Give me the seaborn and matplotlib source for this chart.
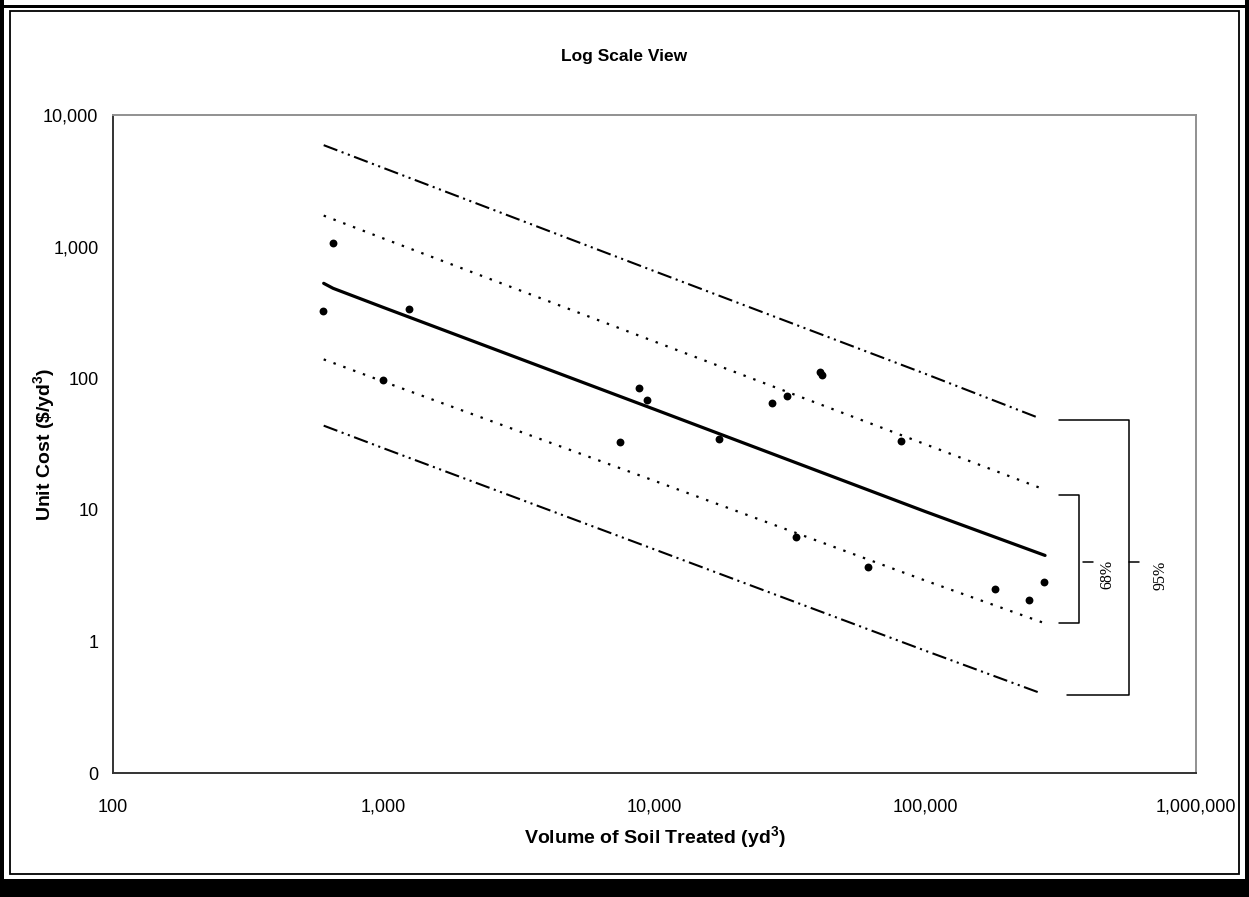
import matplotlib
matplotlib.use("Agg")
import matplotlib.pyplot as plt
import seaborn as sns
import pandas as pd
import numpy as np
from matplotlib.patches import Rectangle
from matplotlib.ticker import FixedLocator, NullLocator

# ---------------- data ----------------
volume = [599, 647, 996, 1239, 7430, 8790, 9350, 17300, 27100, 30800,
          33200, 40800, 41600, 61700, 81300, 181000, 242000, 275000]
unit_cost = [325, 1059, 97, 333, 32.6, 83.8, 67.9, 34.3, 64.4, 73.3,
             6.2, 111, 106, 3.7, 33.3, 2.49, 2.07, 2.83]

fit_x = [600, 650, 1000, 10000, 100000, 277000]
fit_y = [526, 482, 344, 58, 9.7, 4.5]

band68_x = [600, 1000, 10000, 100000, 272000]
upper68 = [1720, 1150, 190, 31.5, 14.4]
lower68 = [139, 94, 16.6, 2.9, 1.39]

band95_x = [600, 1000, 10000, 100000, 262000]
upper95 = [5900, 3950, 650, 108, 50]
lower95 = [43.6, 29.3, 5.0, 0.85, 0.41]

bracket68 = [12.9, 1.39]
bracket95 = [48.0, 0.39]
bracket_mid = 4.0

x_ticks = [100, 1000, 10000, 100000, 1000000]
x_ticklabels = ["100", "1,000", "10,000", "100,000", "1,000,000"]
y_ticks = [0.1, 1, 10, 100, 1000, 10000]
y_ticklabels = ["0", "1", "10", "100", "1,000", "10,000"]

title = "Log Scale View"
xlabel = "Volume of Soil Treated (yd$^\\mathbf{3}$)"
ylabel = "Unit Cost (\\$/yd$^\\mathbf{3}$)"

# ---------------- figure ----------------
sns.set_theme(style="white")
plt.rcParams["font.family"] = ["Liberation Sans", "DejaVu Sans"]
plt.rcParams["mathtext.fontset"] = "custom"
plt.rcParams["mathtext.rm"] = "Liberation Sans"
plt.rcParams["mathtext.bf"] = "Liberation Sans:bold"
plt.rcParams["text.color"] = "black"
plt.rcParams["axes.labelcolor"] = "black"

W, H = 1249, 897
fig = plt.figure(figsize=(W / 100, H / 100), dpi=100)
fig.patch.set_facecolor("white")
ax = fig.add_axes([113 / W, 1 - 773 / H, (1196 - 113) / W, (773 - 115) / H])
ax.set_facecolor("white")

pts = pd.DataFrame({"volume": volume, "cost": unit_cost})
fit = pd.DataFrame({"x": fit_x, "y": fit_y})
b68u = pd.DataFrame({"x": band68_x, "y": upper68})
b68l = pd.DataFrame({"x": band68_x, "y": lower68})
b95u = pd.DataFrame({"x": band95_x, "y": upper95})
b95l = pd.DataFrame({"x": band95_x, "y": lower95})

dashdotdot = (0, (7, 2.2, 1.0, 2.2, 1.0, 2.2))
dotted = (0, (1.1, 3.6))

for df in (b95u, b95l):
    sns.lineplot(data=df, x="x", y="y", ax=ax, color="black", lw=1.5,
                 linestyle=dashdotdot, estimator=None, sort=False)
for df in (b68u, b68l):
    sns.lineplot(data=df, x="x", y="y", ax=ax, color="black", lw=1.6,
                 linestyle=dotted, estimator=None, sort=False)
sns.lineplot(data=fit, x="x", y="y", ax=ax, color="black", lw=2.3,
             estimator=None, sort=False)
sns.scatterplot(data=pts, x="volume", y="cost", ax=ax, color="black",
                s=32, edgecolor="black", linewidth=0, zorder=5)

ax.set_xscale("log")
ax.set_yscale("log")
ax.set_xlim(100, 1000000)
ax.set_ylim(0.1, 10000)
ax.xaxis.set_major_locator(FixedLocator(x_ticks))
ax.xaxis.set_minor_locator(NullLocator())
ax.yaxis.set_major_locator(FixedLocator(y_ticks))
ax.yaxis.set_minor_locator(NullLocator())
ax.set_xticklabels(x_ticklabels)
ax.set_yticklabels(y_ticklabels)
ax.tick_params(axis="both", which="major", direction="out", length=4.5,
               width=1.0, color="#333333", labelsize=13, labelcolor="black")
ax.tick_params(axis="x", pad=14)
ax.tick_params(axis="y", pad=6)

for s in ("left", "bottom"):
    ax.spines[s].set_color("#333333")
    ax.spines[s].set_linewidth(1.4)
for s in ("top", "right"):
    ax.spines[s].set_color("#909090")
    ax.spines[s].set_linewidth(1.4)

ax.set_xlabel(xlabel, fontsize=14, fontweight="bold", color="black")
ax.set_ylabel(ylabel, fontsize=14, fontweight="bold", color="black")
ax.xaxis.set_label_coords(0.5, -(838 - 773) / (773 - 115))
ax.yaxis.set_label_coords(-(113 - 45) / (1196 - 113), 0.5)
ax.xaxis.label.set_va("center")
ax.yaxis.label.set_va("center")
fig.text(0.5, 1 - 56 / H, title, ha="center", va="center",
         fontsize=12.5, fontweight="bold", color="black")

# ---------------- brackets ----------------
bk = dict(color="black", lw=1.1, clip_on=False, zorder=6)
# 68%
ax.plot([313000, 371000, 371000, 313000],
        [bracket68[0], bracket68[0], bracket68[1], bracket68[1]], **bk)
ax.plot([384000, 417000], [bracket_mid, bracket_mid], **bk)
# 95%
ax.plot([313000, 564000, 564000, 333000],
        [bracket95[0], bracket95[0], bracket95[1], bracket95[1]], **bk)
ax.plot([564000, 614000], [bracket_mid, bracket_mid], **bk)
serif = ["Liberation Serif", "DejaVu Serif"]
ax.text(469000, 3.2, "68%", rotation=90, ha="center", va="center",
        fontsize=11.5, family=serif, color="black")
ax.text(741000, 3.2, "95%", rotation=90, ha="center", va="center",
        fontsize=11.5, family=serif, color="black")

# ---------------- outer double frame ----------------
def frect(x0, y0, x1, y1, **kw):
    fig.add_artist(Rectangle((x0 / W, 1 - y1 / H), (x1 - x0) / W, (y1 - y0) / H,
                             transform=fig.transFigure, **kw))

blk = dict(facecolor="black", edgecolor="none")
frect(0, 0, 4, H, **blk)
frect(W - 4, 0, W, H, **blk)
frect(0, 5, W, 8.5, **blk)
frect(0, 879, W, H, **blk)
thin = dict(facecolor="none", edgecolor="black", linewidth=1.3)
frect(10, 11, W - 10, 874, **thin)

fig.savefig("out.png", dpi=100, facecolor="white")
